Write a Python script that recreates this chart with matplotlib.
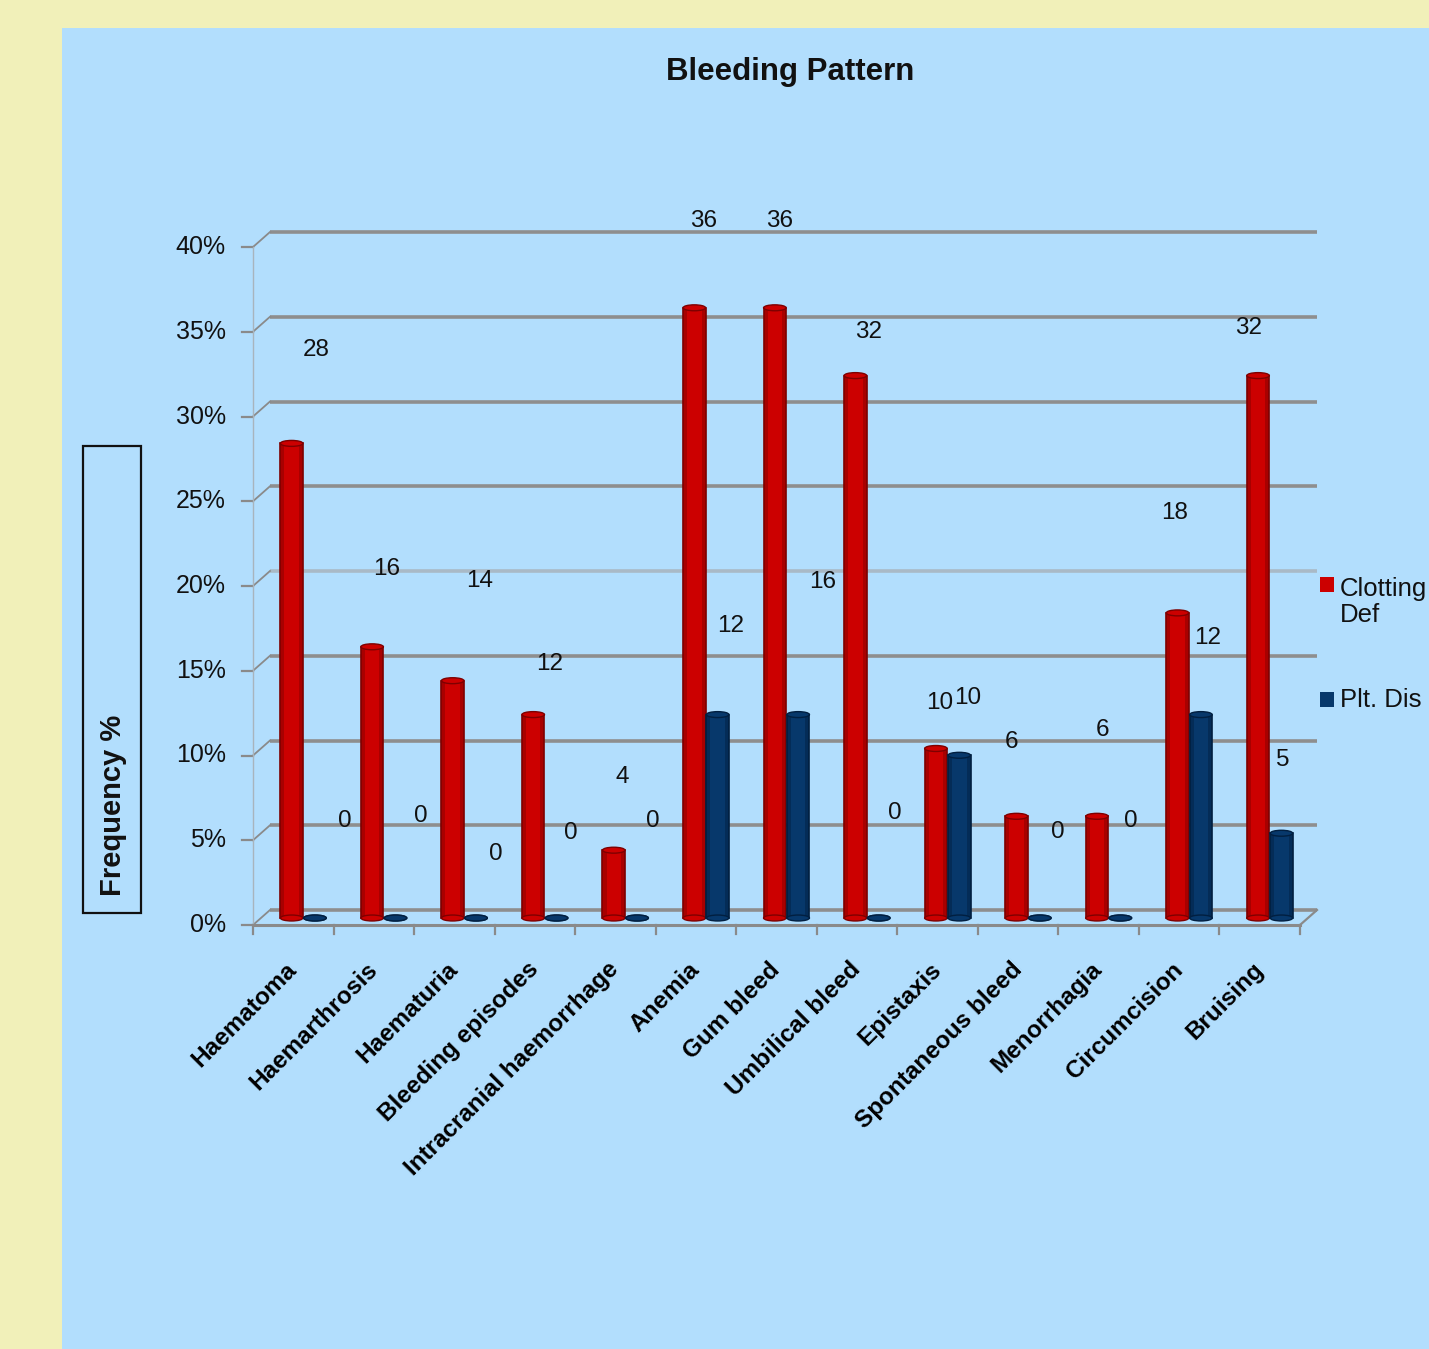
import matplotlib
matplotlib.use("Agg")
import matplotlib.pyplot as plt
from matplotlib.patches import Rectangle, Ellipse
from matplotlib.lines import Line2D
from matplotlib.transforms import Affine2D, IdentityTransform

# ---------------- data ----------------
categories = ["Haematoma", "Haemarthrosis", "Haematuria", "Bleeding episodes",
              "Intracranial haemorrhage", "Anemia", "Gum bleed", "Umbilical bleed",
              "Epistaxis", "Spontaneous bleed", "Menorrhagia", "Circumcision", "Bruising"]
clotting_def = [28, 16, 14, 12, 4, 36, 36, 32, 10, 6, 6, 18, 32]
plt_dis = [0, 0, 0, 0, 0, 12, 12, 0, 9.6, 0, 0, 12, 5]
clotting_labels = ["28", "16", "14", "12", "4", "36", "36", "32", "10", "6", "6", "18", "32"]
plt_labels = ["0", "0", "0", "0", "0", "12", "16", "0", "10", "0", "0", "12", "5"]
series_names = ["Clotting\nDef", "Plt. Dis"]
yticks = [0, 5, 10, 15, 20, 25, 30, 35, 40]
ytick_labels = ["0%", "5%", "10%", "15%", "20%", "25%", "30%", "35%", "40%"]
title = "Bleeding Pattern"
ylabel = "Frequency %"

# label placement (layout only): height in % and horizontal pixel offset
clot_lab_y = [33.5, 20.6, 19.9, 15.0, 8.3, 41.1, 41.1, 34.6, 12.7, 10.4, 11.1, 23.9, 34.8]
clot_lab_dx = [25, 14, 27, 16, 8, 9, 5, 13, 4, -5, 6, -3, -10]
plt_lab_y = [5.7, 6.0, 3.8, 5.0, 5.7, 17.2, 19.8, 6.2, 13.0, 5.1, 5.7, 16.5, 9.3]
plt_lab_dx = [30, 25, 20, 14, 16, 13, 24, 16, 8, 18, 10, 7, 1]

# ---------------- style ----------------
W, H = 1429, 1349
YELLOW = "#f1f0b9"
PANEL = "#b2defd"
RED, RED_D = "#cc0000", "#7e0000"
BLUE, BLUE_D = "#07386b", "#011f40"
GRID = "#8e8e8e"
FONT = "Liberation Sans"

fig = plt.figure(figsize=(W / 100, H / 100), dpi=100)
fig.patch.set_facecolor(YELLOW)
fig.add_artist(Rectangle((62 / W, 0), 1, 1 - 28 / H, transform=fig.transFigure,
                         facecolor=PANEL, edgecolor="none", zorder=0))

ax = fig.add_axes([261 / W, 1 - 918 / H, 1047 / W, 678 / H])
ax.set_xlim(0, 13)
ax.set_ylim(0, 40)
ax.axis("off")
ax.patch.set_alpha(0)

front = ax.transData + Affine2D().translate(-8, -7)
back = ax.transData + Affine2D().translate(9, 8)
ident = IdentityTransform()


def dline(p, q, **kw):
    fig.add_artist(Line2D([p[0], q[0]], [p[1], q[1]], transform=ident, **kw))


# back wall grid lines
for g in yticks:
    col = "#a9b9c6" if g == 20 else GRID
    ax.plot([0, 13], [g, g], transform=back, color=col, lw=2.6, clip_on=False, zorder=1,
            solid_capstyle="butt")
    pf = front.transform((0, g))
    pb = back.transform((0, g))
    dline(pf, pb, color="#8a8a8a", lw=1.3, zorder=2)
    dline((pf[0] - 11, pf[1]), pf, color="#8a8a8a", lw=1.6, zorder=2)

# front left axis
p0 = front.transform((0, 0))
p40 = front.transform((0, 40))
dline(p0, p40, color="#a8b4bd", lw=1.0, zorder=2)
# front floor line with ticks
pr = front.transform((13, 0))
dline(p0, pr, color="#8a8a8a", lw=2.2, zorder=2)
for i in range(14):
    pt = front.transform((i, 0))
    dline(pt, (pt[0], pt[1] - 9), color="#8a8a8a", lw=1.6, zorder=2)
dline(pr, back.transform((13, 0)), color="#8a8a8a", lw=1.6, zorder=2)

# y tick labels
for g, lab in zip(yticks, ytick_labels):
    pf = front.transform((0, g))
    fig.text((pf[0] - 27) / W, pf[1] / H, lab, ha="right", va="center",
             fontsize=18, family=FONT, color="#111111")

# bars
bw = 0.28
offs = [0.38, 0.67]
for s, (vals, c, cd) in enumerate([(clotting_def, RED, RED_D), (plt_dis, BLUE, BLUE_D)]):
    for i, v in enumerate(vals):
        x = i + offs[s]
        ax.bar(x, v, width=bw, color=c, edgecolor=cd, linewidth=1.2, zorder=3 + s,
               clip_on=False)
        # darker side shading
        ax.bar(x - bw / 2 + 0.025, v, width=0.05, color=cd, alpha=0.45, linewidth=0,
               zorder=3 + s, clip_on=False)
        ax.bar(x + bw / 2 - 0.025, v, width=0.05, color=cd, alpha=0.45, linewidth=0,
               zorder=3 + s, clip_on=False)
        ax.add_patch(Ellipse((x, 0), bw, 0.35, facecolor=c, edgecolor=cd, lw=1.0,
                             zorder=3 + s, clip_on=False))
        ax.add_patch(Ellipse((x, v), bw, 0.35, facecolor=c, edgecolor=cd, lw=1.0,
                             zorder=3.5 + s, clip_on=False))

# data labels
for i in range(len(categories)):
    ax.annotate(clotting_labels[i], (i + offs[0], clot_lab_y[i]),
                xytext=(clot_lab_dx[i], 0), textcoords="offset pixels",
                ha="center", va="center", fontsize=17.5, family=FONT, color="#111111",
                annotation_clip=False, zorder=6)
    ax.annotate(plt_labels[i], (i + offs[1], plt_lab_y[i]),
                xytext=(plt_lab_dx[i], 0), textcoords="offset pixels",
                ha="center", va="center", fontsize=17.5, family=FONT, color="#111111",
                annotation_clip=False, zorder=6)

# category labels
for i, cat in enumerate(categories):
    pt = front.transform((i + 0.5, 0))
    fig.text((pt[0] - 8) / W, (pt[1] - 33) / H, cat, rotation=45, rotation_mode="anchor",
             ha="right", va="top", fontsize=17.5, fontweight="bold", family=FONT,
             color="black")

# title
fig.text(790 / W, 1 - 72 / H, title, ha="center", va="center", fontsize=22.5,
         fontweight="bold", family=FONT, color="#111111")

# y label with box
fig.add_artist(Rectangle((83 / W, 1 - 913 / H), 58 / W, 467 / H, transform=fig.transFigure,
                         facecolor="none", edgecolor="#111111", lw=1.6))
fig.text(113 / W, 1 - 805 / H, ylabel, rotation=90, ha="center", va="center",
         fontsize=21, fontweight="bold", family=FONT, color="#111111")

# legend
fig.add_artist(Rectangle((1320 / W, 1 - 592 / H), 14 / W, 15 / H, transform=fig.transFigure,
                         facecolor=RED, edgecolor="none"))
fig.text(1340 / W, 1 - 602 / H, series_names[0], ha="left", va="center", fontsize=18.5,
         family=FONT, color="#111111", linespacing=1.15)
fig.add_artist(Rectangle((1320 / W, 1 - 707 / H), 14 / W, 15 / H, transform=fig.transFigure,
                         facecolor=BLUE, edgecolor="none"))
fig.text(1340 / W, 1 - 700 / H, series_names[1], ha="left", va="center", fontsize=18.5,
         family=FONT, color="#111111")

fig.savefig("out.png", dpi=100, facecolor=fig.get_facecolor())
